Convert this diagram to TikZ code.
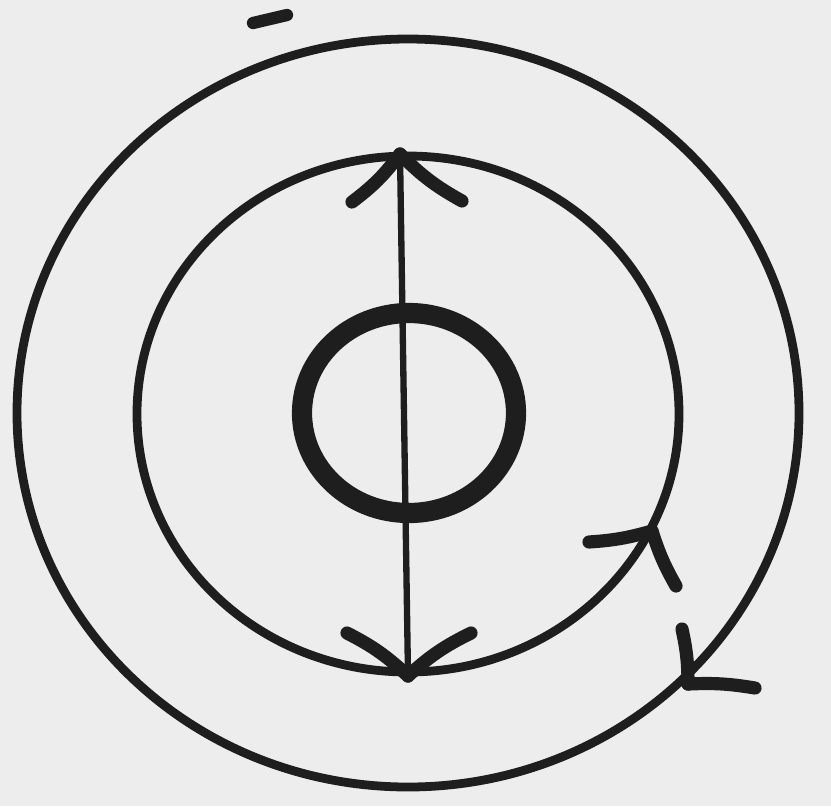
\documentclass[tikz,border=0pt]{standalone}
\usetikzlibrary{calc}
\definecolor{cpaper}{HTML}{EDEDED}
\definecolor{cink}{HTML}{1E1E1E}
\tikzset{
  every picture/.style={x=0.02cm, y=-0.02cm},
  ring/.style={draw=cink, line width=5pt},
  core/.style={draw=cink, line width=11.5pt},
  axis/.style={draw=cink, line width=3.6pt},
  barb/.style={draw=cink, line width=7.5pt, line cap=round},
}
\begin{document}
\begin{tikzpicture}
  \fill[cpaper] (0,0) rectangle (831,806);
  \useasboundingbox (0,0) rectangle (831,806);
  % rings
  \draw[ring] (408,413) ellipse [x radius=391, y radius=374];
  \draw[ring] (408,414) ellipse [x radius=271, y radius=258];
  \draw[core] (409,413) ellipse [x radius=107, y radius=100];
  % axis through the rings
  \coordinate (top) at (400,154);
  \coordinate (bot) at (408,676);
  \draw[axis] (top) -- (bot);
  % barbed heads
  \draw[barb] (top) to[bend left=8] (352,202);
  \draw[barb] (top) to[bend right=8] (462,201);
  \draw[barb] (bot) to[bend right=8] (347,633);
  \draw[barb] (bot) to[bend left=8] (471,633);
  \coordinate (ti) at (652,531);
  \draw[barb] (ti) to[bend left=6] (589,542);
  \draw[barb] (ti) to[bend right=6] (676,586);
  \coordinate (to) at (688,684);
  \draw[barb] (to) to[bend right=6] (682,629);
  \draw[barb] (to) to[bend left=6] (755,688);
  % mark at the top
  \draw[cink, line width=7pt, line cap=round] (253,23) -- (287,15);
\end{tikzpicture}
\end{document}
